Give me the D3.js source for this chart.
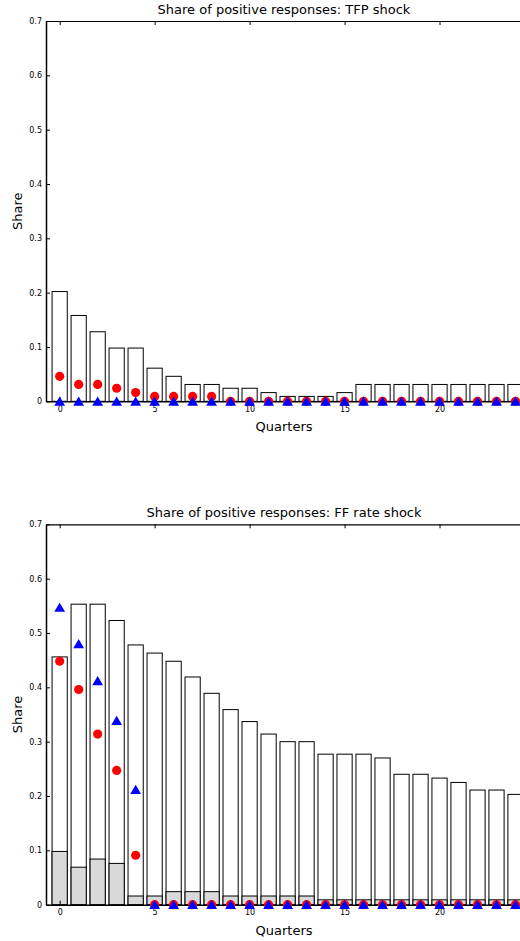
<!DOCTYPE html>
<html>
<head>
<meta charset="utf-8">
<script src="https://cdn.jsdelivr.net/npm/d3@7"></script>
<style>
  body { margin: 0; background: #fff; }
  text { font-family: "DejaVu Sans", sans-serif; fill: #000; }
  .tick text { font-size: 8px; }
  .title, .xlabel, .ylabel { font-size: 13px; }
</style>
</head>
<body>
<div class="chart"></div>
<script>
// quarters after the shock
var quarters = [0, 1, 2, 3, 4, 5, 6, 7, 8, 9, 10, 11, 12, 13, 14, 15, 16, 17, 18, 19, 20, 21, 22, 23, 24];

// TFP shock
var tfpOuter = [0.202, 0.158, 0.128, 0.098, 0.098, 0.061, 0.046, 0.031, 0.031, 0.024, 0.024, 0.016, 0.009,
  0.009, 0.009, 0.016, 0.031, 0.031, 0.031, 0.031, 0.031, 0.031, 0.031, 0.031, 0.031];
var tfpInner = [0, 0, 0, 0, 0, 0, 0, 0, 0, 0, 0, 0, 0, 0, 0, 0, 0, 0, 0, 0, 0, 0, 0, 0, 0];
var tfpCircles = [0.046, 0.031, 0.031, 0.024, 0.016, 0.009, 0.009, 0.009, 0.009, 0, 0, 0, 0,
  0, 0, 0, 0, 0, 0, 0, 0, 0, 0, 0, 0];
var tfpTriangles = [0, 0, 0, 0, 0, 0, 0, 0, 0, 0, 0, 0, 0, 0, 0, 0, 0, 0, 0, 0, 0, 0, 0, 0, 0];

// FF rate shock
var ffOuter = [0.456, 0.553, 0.553, 0.523, 0.478, 0.463, 0.448, 0.419, 0.389, 0.359, 0.337, 0.314, 0.300,
  0.300, 0.277, 0.277, 0.277, 0.270, 0.240, 0.240, 0.233, 0.225, 0.211, 0.211, 0.203];
var ffInner = [0.098, 0.069, 0.084, 0.076, 0.016, 0.016, 0.024, 0.024, 0.024, 0.016, 0.016, 0.016, 0.016,
  0.016, 0.009, 0.009, 0.009, 0.009, 0.009, 0.009, 0.009, 0.009, 0.009, 0.009, 0.009];
var ffCircles = [0.448, 0.396, 0.314, 0.247, 0.091, 0, 0, 0, 0, 0, 0, 0, 0,
  0, 0, 0, 0, 0, 0, 0, 0, 0, 0, 0, 0];
var ffTriangles = [0.547, 0.480, 0.412, 0.339, 0.212, 0, 0, 0, 0, 0, 0, 0, 0,
  0, 0, 0, 0, 0, 0, 0, 0, 0, 0, 0, 0];

var yTicks = [0, 0.1, 0.2, 0.3, 0.4, 0.5, 0.6, 0.7];
var xTicks = [0, 5, 10, 15, 20];

var svgWidth = 520;
var svgHeight = 941;

var svg = d3.select(".chart")
  .append("svg")
  .attr("width", svgWidth)
  .attr("height", svgHeight);

var xScale = d3.scaleLinear()
  .domain([-0.72, 24.5])
  .range([46, 525]);

var barWidth = xScale(0.8) - xScale(0);

function drawPanel(top, bottom, title, outer, inner, circles, triangles) {
  var yScale = d3.scaleLinear()
    .domain([0, 0.7])
    .range([bottom, top]);

  var g = svg.append("g");

  // outer bars
  g.selectAll(".outer")
    .data(quarters)
    .enter()
    .append("rect")
    .attr("x", d => xScale(d) - barWidth / 2)
    .attr("y", d => yScale(outer[d]))
    .attr("width", barWidth)
    .attr("height", d => yScale(0) - yScale(outer[d]))
    .attr("fill", "#fff")
    .attr("stroke", "#000")
    .attr("stroke-width", 1);

  // inner bars
  g.selectAll(".inner")
    .data(quarters.filter(d => inner[d] > 0))
    .enter()
    .append("rect")
    .attr("x", d => xScale(d) - barWidth / 2)
    .attr("y", d => yScale(inner[d]))
    .attr("width", barWidth)
    .attr("height", d => yScale(0) - yScale(inner[d]))
    .attr("fill", "#d9d9d9")
    .attr("stroke", "#000")
    .attr("stroke-width", 1);

  // left axis, ticks inward
  var leftAxis = d3.axisLeft(yScale)
    .tickValues(yTicks)
    .tickFormat(d => d)
    .tickSizeInner(-4)
    .tickSizeOuter(0)
    .tickPadding(4);

  g.append("g")
    .attr("transform", `translate(${xScale.range()[0]}, 0)`)
    .call(leftAxis)
    .call(a => a.select(".domain").attr("stroke-width", 1.5));

  // bottom axis
  var bottomAxis = d3.axisBottom(xScale)
    .tickValues(xTicks)
    .tickSizeInner(-4)
    .tickSizeOuter(0)
    .tickPadding(5);

  g.append("g")
    .attr("transform", `translate(0, ${bottom})`)
    .call(bottomAxis)
    .call(a => a.select(".domain").attr("stroke-width", 1.5));

  // top border with ticks pointing down
  var topAxis = d3.axisTop(xScale)
    .tickValues(xTicks)
    .tickSizeInner(-4)
    .tickSizeOuter(0)
    .tickFormat("");

  g.append("g")
    .attr("transform", `translate(0, ${top})`)
    .call(topAxis)
    .call(a => a.select(".domain").attr("stroke-width", 1.2));

  // red circles
  g.selectAll(".dot")
    .data(quarters)
    .enter()
    .append("circle")
    .attr("cx", d => xScale(d))
    .attr("cy", d => yScale(circles[d]))
    .attr("r", 4.6)
    .attr("fill", "#ff0000");

  // blue triangles
  g.selectAll(".tri")
    .data(quarters)
    .enter()
    .append("path")
    .attr("d", "M0,-4.8L5.4,4.4L-5.4,4.4Z")
    .attr("transform", d => `translate(${xScale(d)}, ${yScale(triangles[d])})`)
    .attr("fill", "#0000ff");

  // labels
  g.append("text")
    .attr("class", "title")
    .attr("x", 284)
    .attr("y", top - 7)
    .attr("text-anchor", "middle")
    .text(title);

  g.append("text")
    .attr("class", "xlabel")
    .attr("x", 284)
    .attr("y", bottom + 30)
    .attr("text-anchor", "middle")
    .text("Quarters");

  g.append("text")
    .attr("class", "ylabel")
    .attr("transform", `translate(22, ${(top + bottom) / 2}) rotate(-90)`)
    .attr("text-anchor", "middle")
    .text("Share");
}

drawPanel(21, 401.3, "Share of positive responses: TFP shock", tfpOuter, tfpInner, tfpCircles, tfpTriangles);
drawPanel(524.3, 904.7, "Share of positive responses: FF rate shock", ffOuter, ffInner, ffCircles, ffTriangles);
</script>
</body>
</html>
